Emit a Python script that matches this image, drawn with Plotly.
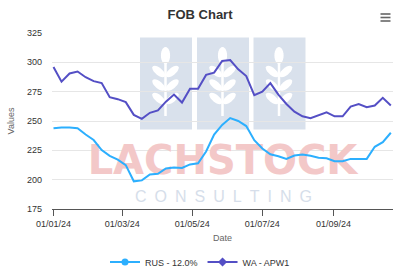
import numpy as np
import pandas as pd
import plotly.graph_objects as go

# ---------------- data ----------------
dates = pd.date_range("2024-01-01", periods=43, freq="7D")
rus_12 = [243.8, 244.5, 244.5, 243.8, 238.5, 233.8, 225.2, 220.3, 217.0, 212.4,
          198.6, 199.4, 204.5, 205.0, 209.5, 210.4, 210.0, 213.0, 214.0, 224.0,
          238.5, 246.7, 252.5, 250.0, 245.7, 233.7, 226.6, 221.7, 220.0, 217.7,
          220.6, 221.4, 220.3, 218.6, 218.3, 215.8, 215.8, 217.7, 217.7, 217.7,
          228.0, 232.0, 240.0]
wa_apw1 = [296.0, 283.5, 290.5, 292.2, 287.3, 284.0, 282.3, 270.3, 268.6, 266.1,
           255.2, 251.8, 257.0, 259.0, 266.5, 272.5, 265.7, 277.5, 277.5, 289.3,
           291.2, 301.2, 302.0, 294.0, 288.3, 272.0, 275.0, 282.3, 272.5, 264.5,
           258.0, 254.0, 252.3, 254.5, 257.3, 254.0, 254.0, 262.3, 264.5, 261.8,
           263.2, 269.8, 263.2]
series_names = ["RUS - 12.0%", "WA - APW1"]
series_colors = ["#2caffe", "#544fc5"]
series_symbols = ["circle", "diamond"]
tick_dates = ["2024-01-01", "2024-03-01", "2024-05-01", "2024-07-01", "2024-09-01"]
tick_labels = ["01/01/24", "01/03/24", "01/05/24", "01/07/24", "01/09/24"]

FONT = "Liberation Sans, Arial, Helvetica, sans-serif"

# ---------------- geometry helpers (pixel -> paper) ----------------
W, H = 400, 273
L, R, T, B = 52, 393, 33, 209


def px(x):
    return (x - L) / (R - L)


def py(y):
    return (B - y) / (B - T)


def ellipse_path(cx, cy, rx, ry, ang_deg, n=24):
    a = np.deg2rad(ang_deg)
    t = np.linspace(0, 2 * np.pi, n, endpoint=False)
    xs = cx + rx * np.cos(t) * np.cos(a) - ry * np.sin(t) * np.sin(a)
    ys = cy + rx * np.cos(t) * np.sin(a) + ry * np.sin(t) * np.cos(a)
    pts = [f"{px(x):.5f},{py(y):.5f}" for x, y in zip(xs, ys)]
    return "M" + " L".join(pts) + " Z"


shapes = []
ICON_FILL = "#d9e1ec"
for x0 in [140, 197, 253.5]:
    cx = x0 + 25.5
    shapes.append(dict(type="rect", xref="paper", yref="paper", layer="below",
                       x0=px(x0), x1=px(x0 + 52), y0=py(129.5), y1=py(37.5),
                       fillcolor=ICON_FILL, line=dict(width=0)))
    # stem
    shapes.append(dict(type="line", xref="paper", yref="paper", layer="below",
                       x0=px(cx), x1=px(cx), y0=py(62), y1=py(116),
                       line=dict(color="white", width=2.5)))
    # top grain
    shapes.append(dict(type="path", xref="paper", yref="paper", layer="below",
                       path=ellipse_path(cx, 55.5, 8.5, 4.6, 90),
                       fillcolor="white", line=dict(width=0)))
    for yy in [71.5, 85, 98.5]:
        for side in (-1, 1):
            shapes.append(dict(type="path", xref="paper", yref="paper", layer="below",
                               path=ellipse_path(cx + side * 6.8, yy, 7.8, 3.6, -side * 40),
                               fillcolor="white", line=dict(width=0)))
# hamburger menu
for yy in [14, 17.5, 21]:
    shapes.append(dict(type="line", xref="paper", yref="paper",
                       x0=px(380.5), x1=px(390.5), y0=py(yy), y1=py(yy),
                       line=dict(color="#666666", width=1.6)))

fig = go.Figure()

# watermark text (decoration, on hidden unit axes so data lines are drawn on top)
fig.add_trace(go.Scatter(x=[px(222.5)], y=[py(163.5)], mode="text", text=["LACHSTOCK"],
                         textfont=dict(family="DejaVu Sans", size=40, color="#f3c8c8",
                                       weight="bold"),
                         textposition="middle center", hoverinfo="skip", showlegend=False,
                         xaxis="x", yaxis="y"))
fig.add_trace(go.Scatter(x=[px(223.5)], y=[py(197.5)], mode="text",
                         text=["C\u2002O\u2002N\u2002S\u2002U\u2002L\u2002T\u2002I\u2002N\u2002G"],
                         textfont=dict(family=FONT, size=16, color="#d6deea"),
                         textposition="middle center", hoverinfo="skip", showlegend=False,
                         xaxis="x", yaxis="y"))

for name, vals, col, sym in zip(series_names, [rus_12, wa_apw1], series_colors, series_symbols):
    fig.add_trace(go.Scatter(x=dates, y=vals, mode="lines", name=name,
                             line=dict(color=col, width=2), showlegend=False,
                             legendgroup=name, xaxis="x2", yaxis="y2"))
    fig.add_trace(go.Scatter(x=[None], y=[None], mode="lines+markers", name=name,
                             line=dict(color=col, width=2),
                             marker=dict(symbol=sym, size=7, color=col),
                             legendgroup=name, xaxis="x2", yaxis="y2"))

x_left = pd.Timestamp("2024-01-01") - pd.Timedelta(days=1.3)
x_right = pd.Timestamp("2024-01-01") + pd.Timedelta(days=295.9)

fig.update_layout(
    width=W, height=H,
    margin=dict(l=L, r=W - R, t=T, b=H - B, pad=0),
    paper_bgcolor="white", plot_bgcolor="white",
    font=dict(family=FONT, color="#333333"),
    title=dict(text="<b>FOB Chart</b>", x=0.5, xref="container", xanchor="center",
               y=1 - 14.5 / H, yref="container", yanchor="middle",
               font=dict(family=FONT, size=13, color="#333333")),
    shapes=shapes,
    xaxis=dict(range=[0, 1], visible=False, domain=[0, 1], fixedrange=True),
    yaxis=dict(range=[0, 1], visible=False, domain=[0, 1], fixedrange=True),
    xaxis2=dict(overlaying="x", anchor="y2", type="date",
                range=[x_left, x_right], tickmode="array",
                tickvals=tick_dates, ticktext=tick_labels,
                ticks="outside", ticklen=6, tickcolor="#555555", tickwidth=1,
                showline=True, linecolor="#555555", linewidth=1,
                showgrid=False, zeroline=False,
                tickfont=dict(size=9, color="#333333"),
                title=dict(text="Date", font=dict(size=9, color="#666666"), standoff=6)),
    yaxis2=dict(overlaying="y", anchor="x2", range=[175, 325], dtick=25, tick0=175,
                showgrid=True, gridcolor="#e6e6e6", gridwidth=1,
                zeroline=False, showline=False, ticks="",
                ticklabelstandoff=9,
                tickfont=dict(size=9, color="#333333"),
                title=dict(text="Values", font=dict(size=9, color="#666666"), standoff=10)),
    legend=dict(orientation="h", xref="container", x=0.5, xanchor="center",
                yref="container", y=1 - 262 / H, yanchor="middle",
                font=dict(size=9, color="#333333"), itemwidth=30,
                bgcolor="rgba(0,0,0,0)"),
    showlegend=True,
)

fig.write_html("out.html")
